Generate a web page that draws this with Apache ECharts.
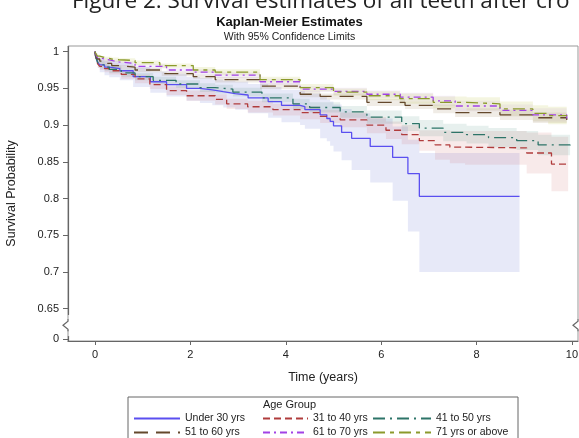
<!DOCTYPE html>
<html>
<head>
<meta charset="utf-8">
<script src="https://cdn.jsdelivr.net/npm/echarts@6.0.0/dist/echarts.min.js"></script>
<style>
  html, body { margin: 0; padding: 0; background: #fff; }
  #chart { width: 579px; height: 438px; }
</style>
</head>
<body>
<div id="chart"></div>
<script>
// Kaplan-Meier survival (years) per age group
var u30T  = [0,0.01,0.03,0.06,0.1,0.2,0.3,0.52,0.8,1.16,1.5,1.92,2.2,2.46,2.69,2.94,3.21,3.63,3.91,4.30,4.40,4.72,4.86,4.93,5.0,5.17,5.38,5.77,6.24,6.56,6.80,8.90];
var u30S  = [1,0.995,0.99,0.985,0.982,0.979,0.977,0.974,0.966,0.959,0.955,0.950,0.948,0.9455,0.943,0.941,0.937,0.932,0.927,0.925,0.921,0.914,0.909,0.905,0.899,0.890,0.882,0.871,0.856,0.834,0.803,0.803];
var u30Lo = [1,0.992,0.985,0.978,0.972,0.968,0.965,0.961,0.952,0.944,0.939,0.933,0.930,0.927,0.924,0.921,0.916,0.910,0.904,0.900,0.895,0.882,0.878,0.872,0.864,0.852,0.839,0.822,0.797,0.755,0.700,0.700];
var u30Hi = [1,0.998,0.995,0.992,0.99,0.988,0.987,0.985,0.979,0.973,0.970,0.966,0.964,0.962,0.960,0.959,0.956,0.952,0.948,0.946,0.943,0.939,0.935,0.932,0.928,0.922,0.916,0.909,0.898,0.880,0.862,0.862];

var a31T  = [0,0.01,0.03,0.06,0.1,0.2,0.3,0.55,0.84,1.15,1.5,1.92,2.52,2.76,3.2,3.73,4.3,4.72,5.14,5.7,6.1,6.43,6.8,7.13,7.44,7.76,9.05,9.57,9.92];
var a31S  = [1,0.994,0.988,0.983,0.98,0.977,0.974,0.969,0.963,0.955,0.947,0.94,0.935,0.929,0.925,0.921,0.917,0.912,0.907,0.90,0.893,0.887,0.879,0.873,0.870,0.869,0.862,0.847,0.847];
var a31Lo = [1,0.991,0.984,0.978,0.975,0.972,0.969,0.963,0.957,0.949,0.941,0.933,0.928,0.922,0.917,0.913,0.908,0.903,0.897,0.889,0.881,0.874,0.865,0.853,0.848,0.846,0.834,0.810,0.810];
var a31Hi = [1,0.997,0.992,0.988,0.985,0.982,0.979,0.975,0.969,0.961,0.953,0.947,0.942,0.936,0.933,0.929,0.926,0.921,0.917,0.911,0.905,0.900,0.893,0.893,0.892,0.892,0.890,0.884,0.884];

var a41T  = [0,0.01,0.03,0.06,0.1,0.2,0.3,0.55,0.84,1.22,1.7,2.2,2.52,2.89,3.5,4.15,4.5,5.14,5.7,6.43,6.8,7.3,7.79,8.25,8.84,9.29,9.96];
var a41S  = [1,0.995,0.99,0.985,0.982,0.979,0.976,0.971,0.966,0.961,0.956,0.951,0.949,0.945,0.937,0.929,0.924,0.918,0.911,0.902,0.896,0.890,0.887,0.883,0.879,0.873,0.870];
var a41Lo = [1,0.992,0.986,0.98,0.977,0.974,0.971,0.966,0.961,0.956,0.951,0.945,0.943,0.939,0.931,0.922,0.917,0.910,0.902,0.892,0.885,0.878,0.875,0.870,0.866,0.859,0.856];
var a41Hi = [1,0.998,0.994,0.99,0.987,0.984,0.981,0.976,0.971,0.966,0.961,0.957,0.955,0.951,0.943,0.936,0.931,0.926,0.920,0.912,0.907,0.902,0.899,0.896,0.892,0.887,0.884];

var a51T  = [0,0.02,0.05,0.1,0.2,0.35,0.5,0.84,1.4,2.06,2.52,3.46,4.3,4.72,5.7,6.5,7.09,7.55,8.49,9.18,9.89];
var a51S  = [1,0.995,0.99,0.987,0.984,0.981,0.979,0.975,0.97,0.966,0.962,0.953,0.942,0.939,0.931,0.927,0.922,0.917,0.914,0.910,0.907];
var a51Lo = [1,0.994,0.988,0.985,0.981,0.978,0.976,0.972,0.967,0.963,0.958,0.949,0.938,0.935,0.926,0.922,0.916,0.911,0.907,0.903,0.899];
var a51Hi = [1,0.996,0.992,0.989,0.987,0.984,0.982,0.978,0.973,0.969,0.966,0.957,0.946,0.943,0.936,0.932,0.928,0.923,0.921,0.917,0.915];

var a61T  = [0,0.02,0.05,0.1,0.2,0.35,0.5,0.84,1.5,2.06,2.52,3.46,4.3,5.0,5.7,6.4,7.09,7.55,8.49,9.18,9.89];
var a61S  = [1,0.996,0.992,0.99,0.988,0.986,0.984,0.98,0.975,0.972,0.968,0.959,0.949,0.946,0.942,0.938,0.933,0.926,0.920,0.914,0.909];
var a61Lo = [1,0.995,0.99,0.988,0.985,0.983,0.981,0.977,0.972,0.968,0.964,0.955,0.945,0.941,0.937,0.932,0.926,0.919,0.912,0.905,0.900];
var a61Hi = [1,0.997,0.994,0.992,0.991,0.989,0.987,0.983,0.978,0.976,0.972,0.963,0.953,0.951,0.947,0.944,0.940,0.933,0.928,0.923,0.918];

var a71T  = [0,0.02,0.05,0.1,0.2,0.35,0.5,0.84,1.36,2.06,2.52,3.46,4.3,5.0,5.7,6.39,7.09,7.79,8.49,9.18,9.5,9.89];
var a71S  = [1,0.997,0.994,0.992,0.99,0.989,0.988,0.985,0.981,0.975,0.972,0.962,0.951,0.945,0.940,0.936,0.931,0.929,0.922,0.916,0.913,0.912];
var a71Lo = [1,0.996,0.992,0.99,0.987,0.986,0.985,0.982,0.978,0.971,0.968,0.958,0.946,0.940,0.934,0.929,0.923,0.920,0.912,0.905,0.901,0.900];
var a71Hi = [1,0.998,0.996,0.994,0.993,0.992,0.991,0.988,0.984,0.979,0.976,0.966,0.956,0.950,0.946,0.943,0.939,0.938,0.932,0.927,0.925,0.924];

var xTicks = [0, 2, 4, 6, 8, 10];
var yTicks = [0, 0.65, 0.7, 0.75, 0.8, 0.85, 0.9, 0.95, 1];
var yBreak = [0.004, 0.642];

var FONT = '"Liberation Sans", Arial, sans-serif';
var AXIS = '#666';

var groups = [
  { name: 'Under 30 yrs',    t: u30T, s: u30S, lo: u30Lo, hi: u30Hi, color: '#5a4ff0', band: 'rgba(95,105,205,0.15)', dash: 'solid' },
  { name: '31 to 40 yrs',    t: a31T, s: a31S, lo: a31Lo, hi: a31Hi, color: '#b03c3c', band: 'rgba(200,90,90,0.13)',  dash: [7, 4] },
  { name: '41 to 50 yrs',    t: a41T, s: a41S, lo: a41Lo, hi: a41Hi, color: '#2d7468', band: 'rgba(60,130,115,0.12)', dash: [12, 5, 2, 5] },
  { name: '51 to 60 yrs',    t: a51T, s: a51S, lo: a51Lo, hi: a51Hi, color: '#64482c', band: 'rgba(130,100,50,0.12)', dash: [14, 8] },
  { name: '61 to 70 yrs',    t: a61T, s: a61S, lo: a61Lo, hi: a61Hi, color: '#a242e6', band: 'rgba(170,110,220,0.10)', dash: [7, 4, 2, 4] },
  { name: '71 yrs or above', t: a71T, s: a71S, lo: a71Lo, hi: a71Hi, color: '#8b9a2c', band: 'rgba(185,190,60,0.16)', dash: [12, 5, 4, 5] }
];

function pairs(t, v) {
  return t.map(function (x, i) { return [x, v[i]]; });
}

// step-shaped confidence band drawn as one polygon through the axes
function bandSeries(g, i) {
  return {
    type: 'custom', name: 'cl' + i, silent: true, z: 1,
    data: pairs(g.t, g.lo),
    encode: { x: 0, y: 1 },
    renderItem: function (params, api) {
      if (params.dataIndex !== 0) return;
      var up = [], dn = [];
      for (var k = 0; k < g.t.length; k++) {
        var x1 = k + 1 < g.t.length ? g.t[k + 1] : g.t[k];
        up.push(api.coord([g.t[k], g.hi[k]]), api.coord([x1, g.hi[k]]));
        dn.push(api.coord([g.t[k], g.lo[k]]), api.coord([x1, g.lo[k]]));
      }
      return { type: 'polygon', shape: { points: up.concat(dn.reverse()) }, style: { fill: g.band } };
    }
  };
}

var series = [];
groups.forEach(function (g, i) { series.push(bandSeries(g, i)); });
groups.forEach(function (g) {
  series.push({
    type: 'line', name: g.name, step: 'end', symbol: 'none',
    data: pairs(g.t, g.s),
    lineStyle: { color: g.color, width: 1.3, type: g.dash },
    itemStyle: { color: g.color }, z: 3
  });
});

function legendCol(names, left, w) {
  return {
    data: names, orient: 'vertical', left: left, top: 413, padding: 0,
    itemWidth: w, itemHeight: 10, itemGap: 3, selectedMode: false,
    itemStyle: { opacity: 0 },
    textStyle: { fontSize: 10.5, color: '#222', fontFamily: FONT }
  };
}

var chart = echarts.init(document.getElementById('chart'));
chart.setOption({
  animation: false,
  backgroundColor: '#fff',
  title: [
    { text: 'Kaplan-Meier Estimates', left: 'center', top: 11,
      textStyle: { fontSize: 13, fontWeight: 'bold', color: '#111', fontFamily: FONT } },
    { text: 'With 95% Confidence Limits', left: 'center', top: 27,
      textStyle: { fontSize: 10.5, fontWeight: 'normal', color: '#222', fontFamily: FONT } }
  ],
  legend: [
    legendCol(['Under 30 yrs', '51 to 60 yrs'], 133, 46),
    legendCol(['31 to 40 yrs', '61 to 70 yrs'], 262, 45),
    legendCol(['41 to 50 yrs', '71 yrs or above'], 372, 58)
  ],
  grid: { left: 68, right: 1, top: 46, bottom: 97, outerBoundsMode: 'none',
          show: true, borderColor: '#999', borderWidth: 1 },
  xAxis: {
    type: 'value', min: -0.566, max: 10.126,
    name: 'Time (years)', nameLocation: 'middle', nameGap: 30,
    nameTextStyle: { fontSize: 12.5, color: '#222', fontFamily: FONT },
    axisLine: { onZero: false, lineStyle: { color: AXIS, width: 1.2 } },
    axisTick: { customValues: xTicks, length: 4, lineStyle: { color: AXIS } },
    axisLabel: { customValues: xTicks, fontSize: 11, color: '#222', fontFamily: FONT, margin: 8 },
    splitLine: { show: false }
  },
  yAxis: {
    type: 'value', min: -0.003, max: 1.0077,
    name: 'Survival Probability', nameLocation: 'middle', nameGap: 50,
    nameTextStyle: { fontSize: 12.5, color: '#222', fontFamily: FONT },
    axisLine: { show: true, onZero: false, lineStyle: { color: AXIS, width: 1.2 } },
    axisTick: { show: true, customValues: yTicks, length: 5, lineStyle: { color: AXIS } },
    axisLabel: { customValues: yTicks, fontSize: 11, color: '#222', fontFamily: FONT, margin: 9 },
    splitLine: { show: false },
    breaks: [{ start: yBreak[0], end: yBreak[1], gap: '7.2%' }],
    breakArea: {
      show: true,
      itemStyle: { color: 'rgba(255,255,255,0)', borderColor: 'rgba(0,0,0,0)', borderWidth: 0, opacity: 1 },
      expandOnClick: false
    }
  },
  series: series
});

// the boxed legend title and the break marks on both frame sides
var gTop = chart.convertToPixel({ yAxisIndex: 0 }, yBreak[1]);
var gBot = chart.convertToPixel({ yAxisIndex: 0 }, yBreak[0]);
var xL = chart.convertToPixel({ xAxisIndex: 0 }, -0.566);
var xR = chart.convertToPixel({ xAxisIndex: 0 }, 10.126);
var yMid = (gTop + gBot) / 2;
function zig(x) {
  return [
    { type: 'rect', shape: { x: x - 3, y: yMid - 5, width: 6, height: 10 }, style: { fill: '#fff' }, z: 100 },
    { type: 'polyline', shape: { points: [[x, yMid - 6], [x, yMid - 4], [x - 5, yMid], [x, yMid + 4], [x, yMid + 6]] },
      style: { stroke: AXIS, lineWidth: 1.2, fill: 'none' }, z: 101 }
  ];
}
chart.setOption({
  graphic: [
    { type: 'text', left: 72, top: -10,
      style: { text: 'Figure 2. Survival estimates of all teeth after cro', fontSize: 22.5,
               fontFamily: '"Open Sans", sans-serif', fill: '#222' } },
    { type: 'rect', shape: { x: 128, y: 397, width: 390, height: 50 },
      style: { fill: 'none', stroke: AXIS, lineWidth: 1 } },
    { type: 'text', left: 'center', top: 399,
      style: { text: 'Age Group', fontSize: 11, fontFamily: FONT, fill: '#222' } }
  ].concat(zig(xL)).concat(zig(xR))
});
</script>
</body>
</html>
